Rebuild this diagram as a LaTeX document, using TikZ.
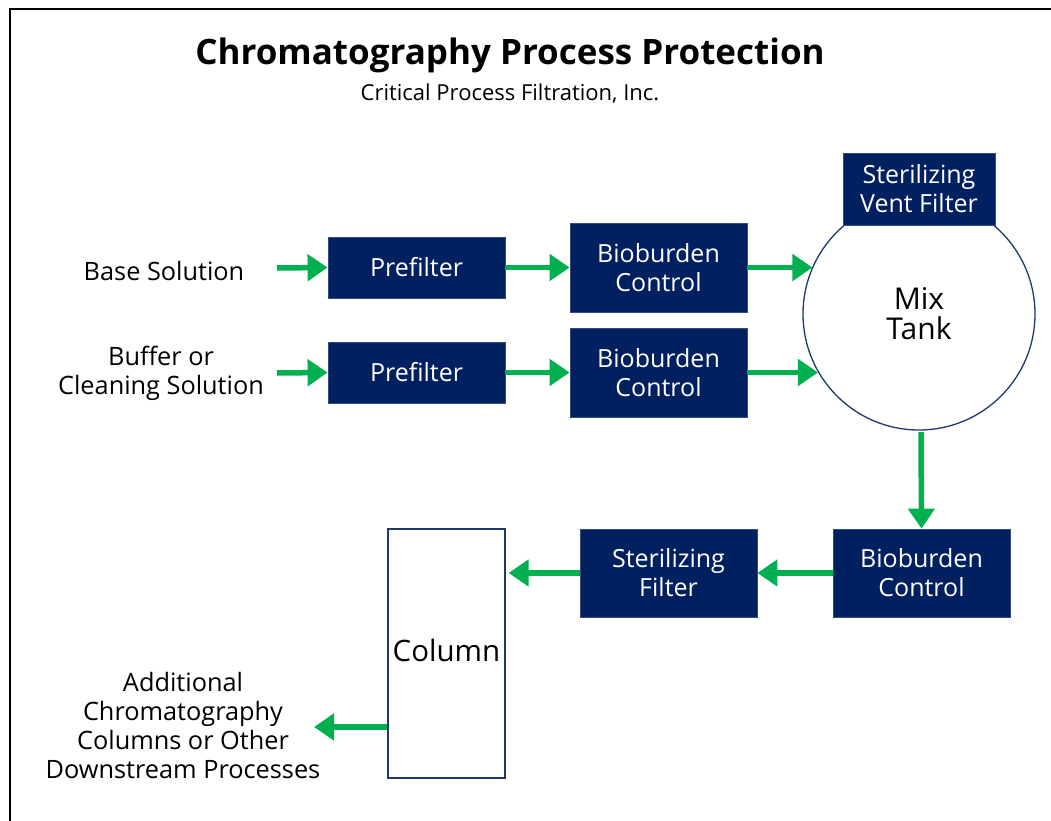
\documentclass[tikz,border=0pt]{standalone}
\usepackage{fontspec}
\setmainfont{Open Sans}
\usetikzlibrary{arrows.meta}
\definecolor{navy}{RGB}{0,32,96}
\definecolor{flowgreen}{RGB}{0,176,80}
\definecolor{rim}{RGB}{31,56,110}
\tikzset{
  box/.style={fill=navy, draw=navy!80!white, line width=0.8pt, text=white, inner sep=0pt,
    minimum width=177pt, align=center, font=\fontsize{25}{29}\selectfont},
  flow/.style={draw=flowgreen, line width=5.5pt, -{Triangle[length=20pt,width=26pt]}},
  lbl/.style={align=center, inner sep=0pt, font=\fontsize{25.3}{29}\selectfont}
}
\begin{document}
\begin{tikzpicture}[x=1pt,y=-1pt]
\useasboundingbox (0,0) rectangle (1051,821);
\draw[line width=2pt] (10,830) -- (10,9.5) -- (1060,9.5);
\node[font=\fontsize{35}{40}\selectfont\bfseries] (title) at (510,55) {Chromatography Process Protection};
\node[font=\fontsize{22}{25}\selectfont] (sub) at (510,94) {Critical Process Filtration, Inc.};
% inputs
\node[lbl] (base) at (164,271) {Base Solution};
\node[lbl] (buf) at (161,373) {Buffer or\\Cleaning Solution};
% row boxes
\node[box, minimum height=61pt] (pf1) at (416.5,267.5) {Prefilter};
\node[box, minimum height=61pt] (pf2) at (416.5,372.5) {Prefilter};
\node[box, minimum height=89pt] (bc1) at (658.5,267.5) {Bioburden\\Control};
\node[box, minimum height=89pt] (bc2) at (658.5,372.5) {Bioburden\\Control};
% tank
\node[circle, draw=rim, line width=1.3pt, minimum size=232pt, inner sep=0pt, align=center,
  font=\fontsize{30}{30}\selectfont] (tank) at (919,314) {Mix\\Tank};
\node[box, minimum width=152pt, minimum height=72pt] (vent) at (919,189) {Sterilizing\\Vent Filter};
% bottom row
\node[box, minimum height=88pt] (bc3) at (921.5,573) {Bioburden\\Control};
\node[box, minimum height=88pt] (sf) at (668.5,573) {Sterilizing\\Filter};
\node[draw=rim, line width=1.3pt, minimum width=117pt, minimum height=249pt, inner sep=0pt] (col) at (446.5,653.5) {};
\node[font=\fontsize{29.5}{30}\selectfont, inner sep=0pt] (coltext) at (446.5,650) {Column};
\node[lbl] (add) at (183,726) {Additional\\Chromatography\\Columns or Other\\Downstream Processes};
% arrows
\coordinate (s1) at (277,268);
\coordinate (s2) at (277,373);
\draw[flow] (s1) -- (pf1.west);
\draw[flow] (s2) -- (pf2.west);
\draw[flow] (pf1.east) -- (pf1.east -| bc1.west);
\draw[flow] (pf2.east) -- (pf2.east -| bc2.west);
\draw[flow] (bc1.east |- pf1.east) -- (pf1.east -| tank.156.6);
\draw[flow] (bc2.east |- pf2.east) -- (pf2.east -| tank.210.6);
\draw[flow] (921,432) -- (bc3.north);
\draw[flow] (bc3.west) -- (sf.east);
\draw[flow] (sf.west) -- ([xshift=3pt]col.east |- sf.west);
\draw[flow] (col.west |- 0,727) -- (314,727);
\end{tikzpicture}
\end{document}
